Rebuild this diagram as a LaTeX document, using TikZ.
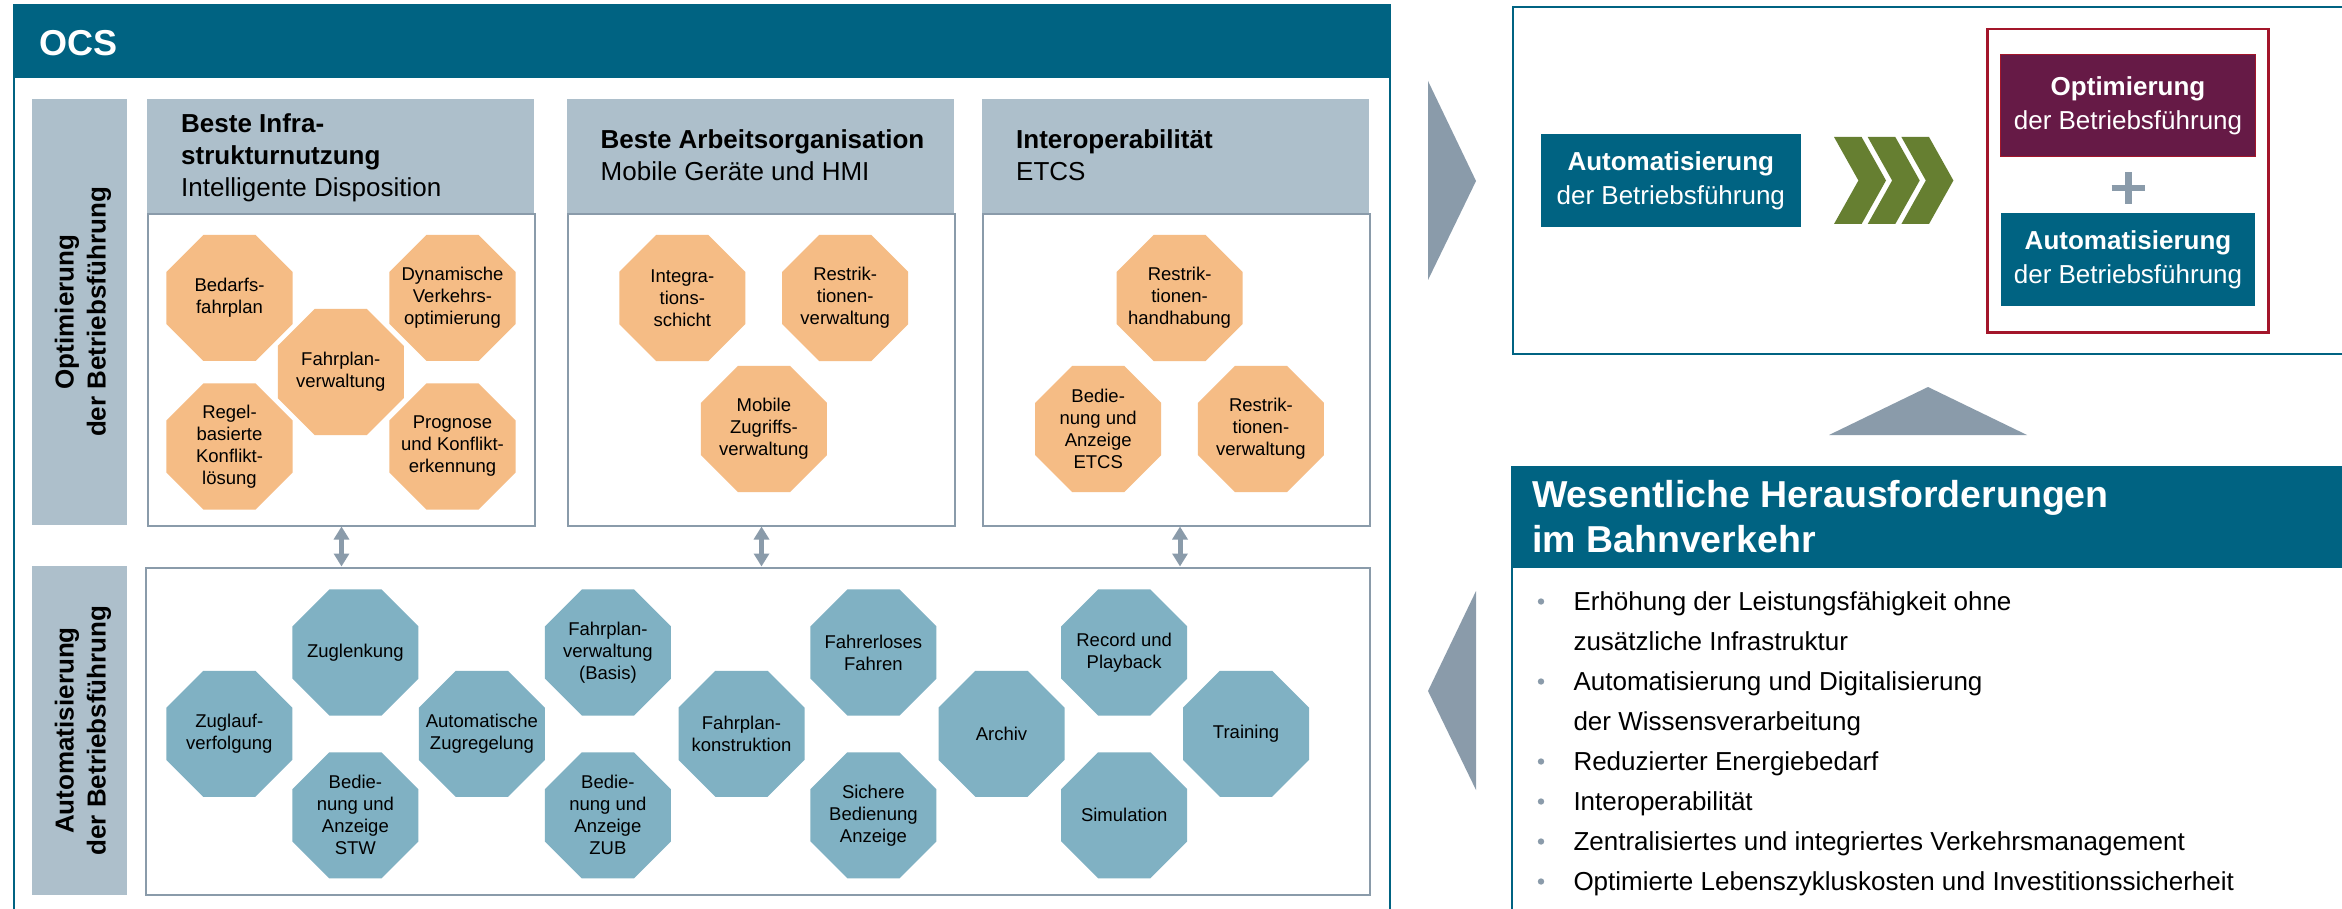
\documentclass[tikz,border=0pt]{standalone}
\usepackage{fontspec}
\setmainfont{Liberation Sans}
\usetikzlibrary{shapes.geometric,arrows.meta}
\definecolor{tealc}{HTML}{006382}
\definecolor{graycol}{HTML}{ADBFCB}
\definecolor{bordc}{HTML}{8A9BAA}
\definecolor{orngc}{HTML}{F5BC85}
\definecolor{blueoct}{HTML}{80B1C3}
\definecolor{purpc}{HTML}{661A46}
\definecolor{redbc}{HTML}{A3162A}
\definecolor{grnc}{HTML}{667F31}
\newcommand\octf{\fontsize{18.5}{22}\selectfont}
\newcommand\ttlf{\fontsize{26}{32}\selectfont}
\newcommand\colf{\bfseries\fontsize{26}{32}\selectfont}
\newcommand\boxf{\fontsize{26}{34}\selectfont}
\newcommand\bigf{\bfseries\fontsize{36}{43}\selectfont}
\newcommand\bigwf{\bfseries\fontsize{37.5}{45}\selectfont}
\newcommand\bulf{\fontsize{26}{40}\selectfont}
% octagon: style, name, position, text
\newcommand\octnode[4]{%
  \node[#1] (#2) at (#3) {};
  \node[octtxt] (#2t) at (#2.center) {#4};}
\begin{document}
\begin{tikzpicture}[x=1pt,y=-1pt,
  oct/.style={regular polygon, regular polygon sides=8, minimum size=136.4pt, inner sep=0pt},
  octtxt/.style={inner sep=0pt, align=center, font=\octf, text=black},
  oo/.style={oct, fill=orngc},
  bo/.style={oct, fill=blueoct},
  hdr/.style={fill=graycol, draw=none, inner sep=0pt, anchor=north west, minimum width=387pt, minimum height=114pt},
  pbody/.style={fill=white, draw=bordc, line width=2pt, inner sep=0pt, anchor=north west},
  ttl/.style={anchor=base west, inner sep=0pt, font=\ttlf},
  dbl/.style={draw=bordc, line width=5pt, {Triangle[width=15pt,length=13pt]}-{Triangle[width=15pt,length=13pt]}},
  colbox/.style={fill=graycol, draw=none},
  tbox/.style={inner sep=0pt, align=center, text=white, font=\boxf},
  bul/.style={anchor=base west, inner sep=0pt, font=\bulf, text=black}
]
\useasboundingbox (0,0) rectangle (2342,909);
\fill[white] (0,0) rectangle (2342,909);

% ===== OCS frame =====
\draw[tealc, line width=2pt] (14,5) rectangle (1390,915);
\fill[tealc] (13,5) rectangle (1391,78.5);
\node[anchor=base west, inner sep=0pt, text=white, font=\bigf] (ocs) at (39,56) {OCS};

% left columns
\fill[colbox] (32,99) rectangle (127,525);
\node[rotate=90, align=center, font=\colf] (c1t) at (83,312) {Optimierung\\der Betriebsführung};
\fill[colbox] (32,566) rectangle (126.5,895);
\node[rotate=90, align=center, font=\colf] (c2t) at (83,730.5) {Automatisierung\\der Betriebsführung};

% top panels
\node[hdr] (p1h) at (147,99) {};
\node[pbody, minimum width=387pt, minimum height=311.5pt] (p1b) at (147,213) {};
\node[hdr] (p2h) at (567,99) {};
\node[pbody, minimum width=387pt, minimum height=311.5pt] (p2b) at (567,213) {};
\node[hdr] (p3h) at (982,99) {};
\node[pbody, minimum width=387pt, minimum height=311.5pt] (p3b) at (982,213) {};

\node[ttl] (t1a) at (181,132.6) {\bfseries Beste Infra-};
\node[ttl] (t1b) at (181,164.6) {\bfseries strukturnutzung};
\node[ttl] (t1c) at (181,196.3) {Intelligente Disposition};
\node[ttl] (t2a) at (600.5,148.3) {\bfseries Beste Arbeitsorganisation};
\node[ttl] (t2b) at (600.5,180.3) {Mobile Geräte und HMI};
\node[ttl] (t3a) at (1016,148.3) {\bfseries Interoperabilität};
\node[ttl] (t3b) at (1016,180.3) {ETCS};

% bottom panel
\node[pbody, minimum width=1224.5pt, minimum height=327pt] (ab) at (144.5,566.5) {};

% double arrows
\draw[dbl] (p1b.south) -- (p1b.south |- ab.north);
\draw[dbl] (p2b.south) -- (p2b.south |- ab.north);
\draw[dbl] ([xshift=3.5pt]p3b.south) -- ([xshift=3.5pt]p3b.south |- ab.north);

% orange octagons
\octnode{oo}{o1}{229.5,297.9}{Bedarfs-\\fahrplan}
\octnode{oo}{o2}{452.5,297.9}{Dynamische\\Verkehrs-\\optimierung}
\octnode{oo}{o3}{340.8,372}{Fahrplan-\\verwaltung}
\octnode{oo}{o4}{229.5,446.5}{Regel-\\basierte\\Konflikt-\\lösung}
\octnode{oo}{o5}{452.5,446.5}{Prognose\\und Konflikt-\\erkennung}
\octnode{oo}{o6}{682.3,298}{Integra-\\tions-\\schicht}
\octnode{oo}{o7}{845.2,298}{Restrik-\\tionen-\\verwaltung}
\octnode{oo}{o8}{763.9,429}{Mobile\\Zugriffs-\\verwaltung}
\octnode{oo}{o9}{1179.6,298}{Restrik-\\tionen-\\handhabung}
\octnode{oo}{o10}{1098.2,429}{Bedie-\\nung und\\Anzeige\\ETCS}
\octnode{oo}{o11}{1260.9,429}{Restrik-\\tionen-\\verwaltung}

% blue octagons
\octnode{bo}{b1}{355.4,652.5}{Zuglenkung}
\octnode{bo}{b2}{229.3,733.8}{Zuglauf-\\verfolgung}
\octnode{bo}{b3}{355.4,815.3}{Bedie-\\nung und\\Anzeige\\STW}
\octnode{bo}{b4}{481.9,733.8}{Automatische\\Zugregelung}
\octnode{bo}{b5}{607.9,652.5}{Fahrplan-\\verwaltung\\(Basis)}
\octnode{bo}{b6}{607.9,815.3}{Bedie-\\nung und\\Anzeige\\ZUB}
\octnode{bo}{b7}{741.5,733.8}{Fahrplan-\\konstruktion}
\octnode{bo}{b8}{873.4,652.5}{Fahrerloses\\Fahren}
\octnode{bo}{b9}{873.4,815.3}{Sichere\\Bedienung\\Anzeige}
\octnode{bo}{b10}{1001.5,733.8}{Archiv}
\octnode{bo}{b11}{1124.2,652.5}{Record und\\Playback}
\octnode{bo}{b12}{1124.2,815.3}{Simulation}
\octnode{bo}{b13}{1246,733.8}{Training}

% ===== right side =====
% big triangles
\fill[bordc] (1428,81) -- (1476,181) -- (1428,280) -- cycle;
\fill[bordc] (1476,591) -- (1428,691) -- (1476,790) -- cycle;
\fill[bordc] (1829,435) -- (1928,387) -- (2027,435) -- cycle;

% top right box
\draw[tealc, line width=2pt] (1512.5,6.7) rectangle (2346,354);
\node[tbox, fill=tealc, minimum width=260pt, minimum height=92.7pt] (auto1) at (1670.8,180.6) {{\bfseries Automatisierung}\\der Betriebsführung};
% chevrons
\foreach \i in {0,1,2} {
  \fill[grnc] ({1834+33.7*\i},137) -- ({1861.6+33.7*\i},137) -- ({1886+33.7*\i},180.5) -- ({1861.6+33.7*\i},224) -- ({1834+33.7*\i},224) -- ({1858.4+33.7*\i},180.5) -- cycle;
}
\draw[redbc, line width=2.5pt] (1987.4,29) rectangle (2268.7,332.3);
\node[tbox, fill=purpc, draw=redbc, line width=1pt, minimum width=254.5pt, minimum height=101.5pt] (opt) at (2128,105.75) {{\bfseries Optimierung}\\der Betriebsführung};
\draw[bordc, line width=6pt] (2111.5,188.3) -- (2144.5,188.3);
\draw[bordc, line width=7pt] (2128,172.5) -- (2128,204);
\node[tbox, fill=tealc, minimum width=254.5pt, minimum height=92.4pt] (auto2) at (2128,259.5) {{\bfseries Automatisierung}\\der Betriebsführung};

% bottom right box
\draw[tealc, line width=2pt] (1512,466.7) rectangle (2346,915);
\fill[tealc] (1512,466.7) rectangle (2346,568);
\node[anchor=base west, inner sep=0pt, text=white, font=\bigwf] (wh1) at (1532,507) {Wesentliche Herausforderungen};
\node[anchor=base west, inner sep=0pt, text=white, font=\bigwf] (wh2) at (1532,552) {im Bahnverkehr};

\foreach \yy in {610,690,770,810,850,890} {
  \fill[bordc] (1541,\yy-8.5) circle (3.2pt);
}
\node[bul] (l1) at (1573.3,610) {Erhöhung der Leistungsfähigkeit ohne};
\node[bul] (l2) at (1573.3,650) {zusätzliche Infrastruktur};
\node[bul] (l3) at (1573.3,690) {Automatisierung und Digitalisierung};
\node[bul] (l4) at (1573.3,730) {der Wissensverarbeitung};
\node[bul] (l5) at (1573.3,770) {Reduzierter Energiebedarf};
\node[bul] (l6) at (1573.3,810) {Interoperabilität};
\node[bul] (l7) at (1573.3,850) {Zentralisiertes und integriertes Verkehrsmanagement};
\node[bul] (l8) at (1573.3,890) {Optimierte Lebenszykluskosten und Investitionssicherheit};
\end{tikzpicture}
\end{document}
